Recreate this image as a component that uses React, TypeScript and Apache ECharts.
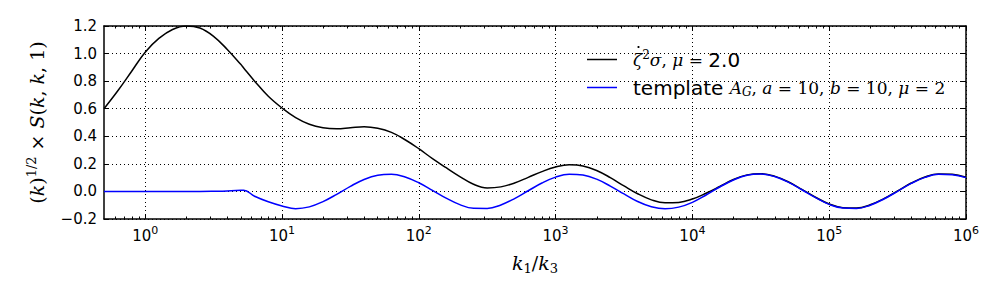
import React, { useEffect, useRef } from "react";
import * as echarts from "echarts";

// x positions are log10(k1/k3)
const LOG_K = [
  -0.30103, -0.2, -0.1, 0, 0.1, 0.2, 0.3, 0.4, 0.5, 0.6, 0.7, 0.72, 0.8, 0.9,
  1.0, 1.1, 1.2, 1.3, 1.4, 1.5, 1.6, 1.7, 1.8, 1.9,
  2.0, 2.1, 2.2, 2.3, 2.4, 2.5, 2.6, 2.7, 2.8, 2.9,
  3.0, 3.1, 3.2, 3.3, 3.4, 3.5, 3.6, 3.7, 3.8, 3.9,
  4.0, 4.1, 4.2, 4.3, 4.4, 4.5, 4.6, 4.7, 4.8, 4.9,
  5.0, 5.1, 5.2, 5.3, 5.4, 5.5, 5.6, 5.7, 5.8, 5.9, 6.0,
];

const ZETA_SIGMA = [
  0.6, 0.73, 0.87, 1.01, 1.11, 1.175, 1.2, 1.185, 1.125, 1.03, 0.92, 0.895, 0.8, 0.69,
  0.605, 0.535, 0.487, 0.462, 0.455, 0.462, 0.469, 0.458, 0.428, 0.375,
  0.31, 0.238, 0.172, 0.108, 0.052, 0.025, 0.033, 0.061, 0.102, 0.144,
  0.177, 0.193, 0.185, 0.152, 0.1, 0.04, -0.017, -0.061, -0.083, -0.08,
  -0.055, -0.013, 0.036, 0.087, 0.12, 0.129, 0.111, 0.07, 0.015, -0.042,
  -0.091, -0.118, -0.121, -0.097, -0.052, 0.004, 0.061, 0.105, 0.127, 0.124, 0.103,
];

const TEMPLATE = [
  0, 0, 0, 0, 0, 0, 0, 0, 0.001, 0.003, 0.008, 0.009, -0.035, -0.075,
  -0.105, -0.125, -0.112, -0.074, -0.021, 0.037, 0.087, 0.118, 0.125, 0.105,
  0.063, 0.008, -0.049, -0.096, -0.122, -0.123, -0.098, -0.052, 0.005, 0.061,
  0.104, 0.125, 0.119, 0.089, 0.039, -0.018, -0.073, -0.111, -0.126, -0.114,
  -0.079, -0.026, 0.032, 0.083, 0.118, 0.126, 0.108, 0.067, 0.012, -0.045,
  -0.094, -0.121, -0.124, -0.1, -0.055, 0.001, 0.058, 0.102, 0.124, 0.121, 0.1,
];

const X_MIN_K = 0.5;
const DECADE_EXPONENTS = [0, 1, 2, 3, 4, 5, 6];
const MINOR_MULTIPLIERS = [2, 3, 4, 5, 6, 7, 8, 9];
const Y_TICKS = [-0.2, 0, 0.2, 0.4, 0.6, 0.8, 1.0, 1.2];

const SANS = "DejaVu Sans";
const SERIF = "DejaVu Serif";

export default function App() {
  const ref = useRef<HTMLDivElement>(null);

  useEffect(() => {
    if (!ref.current) return;
    const chart = echarts.init(ref.current, undefined, { renderer: "svg" });

    const xMin = Math.log10(X_MIN_K);
    const xMax = DECADE_EXPONENTS[DECADE_EXPONENTS.length - 1];
    const minorTicks: number[] = [];
    for (let n = -1; n < xMax; n++) {
      for (const m of MINOR_MULTIPLIERS) {
        const v = n + Math.log10(m);
        if (v > xMin + 1e-6 && v < xMax - 1e-6) minorTicks.push(v);
      }
    }

    const frame = { show: true, onZero: false, lineStyle: { color: "#000", width: 1.5 } };
    const majorTick = {
      show: true,
      inside: true,
      length: 5,
      customValues: DECADE_EXPONENTS,
      lineStyle: { color: "#000", width: 1 },
    };
    const minorTick = {
      show: true,
      inside: true,
      length: 2.5,
      customValues: minorTicks,
      lineStyle: { color: "#000", width: 1 },
    };
    const xBase = { type: "value", min: xMin, max: xMax, gridIndex: 0 };

    const mathRich = {
      i: { fontFamily: SERIF, fontStyle: "italic", fontSize: 19, color: "#000", lineHeight: 26 },
      r: { fontFamily: SERIF, fontSize: 19, color: "#000", lineHeight: 26 },
      sup: { fontFamily: SERIF, fontSize: 13, color: "#000", lineHeight: 14, padding: [0, 0, 12, 0] },
      sub: { fontFamily: SERIF, fontSize: 13, color: "#000", lineHeight: 14, padding: [10, 0, 0, 0] },
    };

    const legendRich = {
      g: { width: 11, fontSize: 17, lineHeight: 24 },
      s: { fontFamily: SANS, fontSize: 20, color: "#000", lineHeight: 24 },
      m: { fontFamily: SERIF, fontStyle: "italic", fontSize: 17, color: "#000", lineHeight: 24 },
      r: { fontFamily: SERIF, fontSize: 17, color: "#000", lineHeight: 24 },
      sup: { fontFamily: SERIF, fontSize: 12, color: "#000", lineHeight: 12, padding: [0, 0, 10, 0] },
      sub: { fontFamily: SERIF, fontStyle: "italic", fontSize: 12, color: "#000", lineHeight: 12, padding: [8, 0, 0, 0] },
    };

    const LEGEND_LABELS: Record<string, string> = {
      zeta: "{g| }{m|ζ}{sup|2}{m|σ}{r|, }{m|μ}{r| = }{s|2.0}",
      tmpl: "{g| }{s|template }{m|A}{sub|G}{r|, }{m|a}{r| = 10, }{m|b}{r| = 10, }{m|μ}{r| = 2}",
    };

    chart.setOption({
      animation: false,
      backgroundColor: "#fff",
      grid: { left: 104, right: 34, top: 26, bottom: 81, containLabel: false },
      legend: {
        show: true,
        orient: "vertical",
        left: 582,
        top: 43.5,
        itemWidth: 30,
        itemHeight: 1.5,
        itemGap: 7,
        icon: "rect",
        selectedMode: false,
        data: ["zeta", "tmpl"],
        formatter: (name: string) => LEGEND_LABELS[name],
        textStyle: { rich: legendRich },
      },
      graphic: [
        // the dot over the zeta of the first legend entry
        { type: "circle", shape: { cx: 638.5, cy: 47, r: 1.1 }, style: { fill: "#000" }, z: 100 },
      ],
      xAxis: [
        {
          ...xBase,
          position: "bottom",
          axisLine: frame,
          axisTick: majorTick,
          axisLabel: {
            show: true,
            customValues: DECADE_EXPONENTS,
            margin: 8,
            formatter: (v: number) => `{b|10}{e|${Math.round(v)}}`,
            rich: {
              b: { fontFamily: SANS, fontSize: 15, color: "#000", lineHeight: 18 },
              e: { fontFamily: SANS, fontSize: 11, color: "#000", lineHeight: 12, padding: [0, 0, 11, 0] },
            },
          },
          splitLine: { show: true, lineStyle: { color: "#000", width: 1, type: [1, 3] } },
          name: "{i|k}{sub|1}{r|/}{i|k}{sub|3}",
          nameLocation: "middle",
          nameGap: 28,
          nameTextStyle: { rich: mathRich },
        },
        {
          ...xBase,
          position: "top",
          axisLine: frame,
          axisTick: majorTick,
          axisLabel: { show: false },
          splitLine: { show: false },
        },
        {
          ...xBase,
          position: "top",
          axisLine: { show: false, onZero: false },
          axisTick: minorTick,
          axisLabel: { show: false },
          splitLine: { show: false },
        },
        {
          ...xBase,
          position: "bottom",
          axisLine: { show: false, onZero: false },
          axisTick: minorTick,
          axisLabel: { show: false },
          splitLine: { show: false },
        },
      ],
      yAxis: [
        {
          type: "value",
          position: "left",
          min: Y_TICKS[0],
          max: Y_TICKS[Y_TICKS.length - 1],
          interval: 0.2,
          axisLine: frame,
          axisTick: { show: true, inside: true, length: 5, lineStyle: { color: "#000", width: 1 } },
          axisLabel: {
            show: true,
            margin: 7,
            fontFamily: SANS,
            fontSize: 15,
            color: "#000",
            formatter: (v: number) => v.toFixed(1).replace("-", "\u2212"),
          },
          splitLine: { show: true, lineStyle: { color: "#000", width: 1, type: [1, 3] } },
          name: "{r|(}{i|k}{r|)}{sup|1/2}{r| × }{i|S}{r|(}{i|k}{r|, }{i|k}{r|, 1)}",
          nameLocation: "middle",
          nameGap: 50,
          nameTextStyle: { rich: mathRich },
        },
        {
          type: "value",
          position: "right",
          min: Y_TICKS[0],
          max: Y_TICKS[Y_TICKS.length - 1],
          interval: 0.2,
          axisLine: frame,
          axisTick: { show: true, inside: true, length: 5, lineStyle: { color: "#000", width: 1 } },
          axisLabel: { show: false },
          splitLine: { show: false },
        },
      ],
      series: [
        {
          name: "zeta",
          type: "line",
          xAxisIndex: 0,
          yAxisIndex: 0,
          data: LOG_K.map((x, i) => [x, ZETA_SIGMA[i]]),
          showSymbol: false,
          symbol: "none",
          smooth: 0.4,
          lineStyle: { color: "#000", width: 1.5 },
          itemStyle: { color: "#000" },
          z: 3,
        },
        {
          name: "tmpl",
          type: "line",
          xAxisIndex: 0,
          yAxisIndex: 0,
          data: LOG_K.map((x, i) => [x, TEMPLATE[i]]),
          showSymbol: false,
          symbol: "none",
          smooth: 0.4,
          lineStyle: { color: "#0000ff", width: 1.5 },
          itemStyle: { color: "#0000ff" },
          z: 4,
        },
      ],
    });

    return () => chart.dispose();
  }, []);

  return (
    <div
      ref={ref}
      style={{ position: "absolute", left: 0, top: 0, width: 1000, height: 300, background: "#fff" }}
    />
  );
}
